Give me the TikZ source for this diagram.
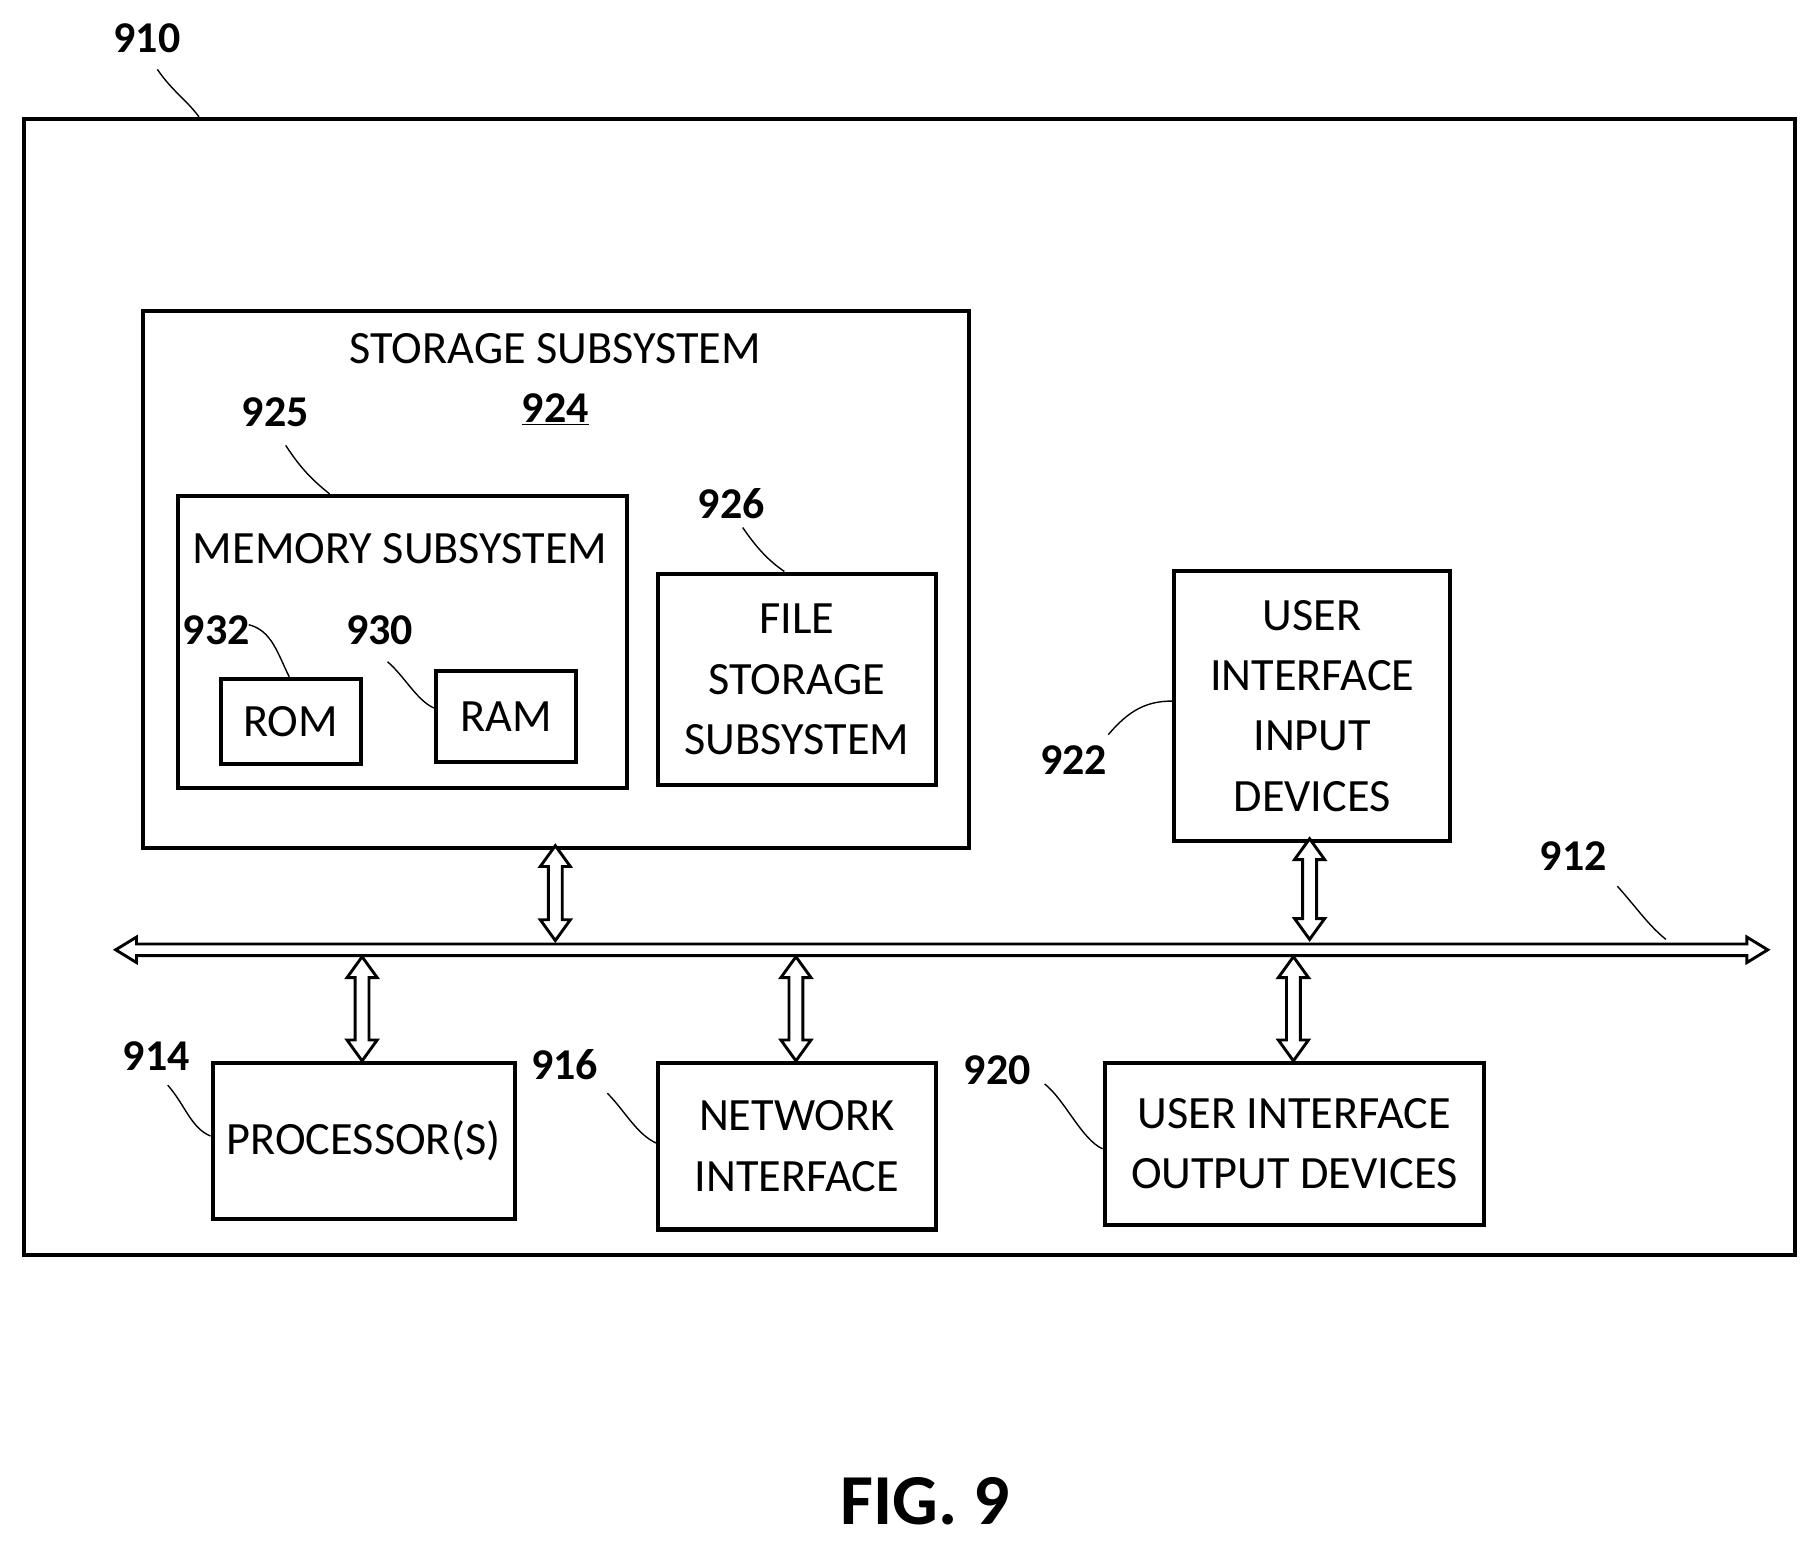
\documentclass[tikz,border=0pt]{standalone}
\usepackage{fontspec}
\setmainfont{Carlito}
\begin{document}
\begin{tikzpicture}[x=1pt,y=-1pt,
 box/.style={draw,line width=3.5pt,inner sep=0pt},
 txt/.style={font=\fontsize{40}{52}\selectfont,align=center},
 num/.style={font=\fontsize{38}{44}\selectfont\bfseries},
 lead/.style={line width=1.2pt}]
\useasboundingbox (0,0) rectangle (1568,1337);
\newcommand{\varr}[3]{% x, y1, y2 hollow double arrow
 \draw[line width=2.5pt,fill=white,line join=miter] (#1,#2) -- (#1+13,#2+18) -- (#1+6,#2+18) -- (#1+6,#3-18) -- (#1+13,#3-18) -- (#1,#3) -- (#1-13,#3-18) -- (#1-6,#3-18) -- (#1-6,#2+18) -- (#1-13,#2+18) -- cycle;}
\node[box,minimum width=1531pt,minimum height=982pt,anchor=north west] (outer) at (19,101) {};
\node[num] (l910) at (127,33) {910};
\draw[lead] (136,60) .. controls (150,80) and (160,85) .. (outer.north west -| 172,0);
\node[box,minimum width=714pt,minimum height=464pt,anchor=north west] (stor) at (122,267) {};
\node[txt] (storT) at (480,301) {STORAGE SUBSYSTEM};
\node[num] (l924) at (480,354) {\underline{924}};
\node[num] (l925) at (238,356) {925};
\node[box,minimum width=388pt,minimum height=252pt,anchor=north west] (mem) at (152,427) {};
\draw[lead] (247,385) .. controls (260,405) and (270,415) .. (285,427);
\node[txt] (memT) at (346,474) {MEMORY SUBSYSTEM};
\node[box,minimum width=121pt,minimum height=74pt,anchor=north west] (rom) at (189,585) {};
\node[txt] at (rom.center) {ROM};
\node[box,minimum width=121pt,minimum height=79pt,anchor=north west] (ram) at (375,578) {};
\node[txt] at (ram.center) {RAM};
\node[num] (l932) at (187,545) {932};
\draw[lead] (215,540) .. controls (235,545) and (240,565) .. (250,585);
\node[num] (l930) at (328,545) {930};
\draw[lead] (335,572) .. controls (350,585) and (360,605) .. (375,612);
\node[box,minimum width=240pt,minimum height=183pt,anchor=north west] (file) at (567,494) {};
\node[txt] at (file.center) {FILE\\STORAGE\\SUBSYSTEM};
\node[num] (l926) at (632,435) {926};
\draw[lead] (642,456) .. controls (655,475) and (665,485) .. (678,494);
\node[box,minimum width=239pt,minimum height=233pt,anchor=north west] (uin) at (1013,492) {};
\node[txt] at (uin.center) {USER\\INTERFACE\\INPUT\\DEVICES};
\node[num] (l922) at (928,657) {922};
\draw[lead] (958,635) .. controls (975,615) and (990,606) .. (1013,606);
% bus
\draw[line width=2.5pt,fill=white,line join=miter] (100,821) -- (118,810) -- (118,816) -- (1510,816) -- (1510,810) -- (1528,821) -- (1510,832) -- (1510,826) -- (118,826) -- (118,832) -- cycle;
\node[num] (l912) at (1360,740) {912};
\draw[lead] (1398,766) .. controls (1415,785) and (1425,800) .. (1440,812);
\varr{480}{731}{813}
\varr{1132}{725}{812}
\varr{313}{827}{917}
\varr{688}{827}{917}
\varr{1118}{827}{917}
\node[box,minimum width=261pt,minimum height=135pt,anchor=north west] (proc) at (182,917) {};
\node[txt] at (proc.center) {PROCESSOR(S)};
\node[num] (l914) at (135,913) {914};
\draw[lead] (145,938) .. controls (160,955) and (165,975) .. (182,982);
\node[box,minimum width=240pt,minimum height=144pt,anchor=north west] (net) at (567,917) {};
\node[txt] at (net.center) {NETWORK\\INTERFACE};
\node[num] (l916) at (488,920) {916};
\draw[lead] (525,945) .. controls (540,960) and (550,980) .. (567,988);
\node[box,minimum width=328pt,minimum height=140pt,anchor=north west] (uout) at (953,917) {};
\node[txt] at (uout.center) {USER INTERFACE\\OUTPUT DEVICES};
\node[num] (l920) at (862,925) {920};
\draw[lead] (903,937) .. controls (920,950) and (935,985) .. (953,993);
\node[font=\fontsize{62}{70}\selectfont\bfseries] (fig) at (800,1298) {FIG. 9};
\end{tikzpicture}
\end{document}
